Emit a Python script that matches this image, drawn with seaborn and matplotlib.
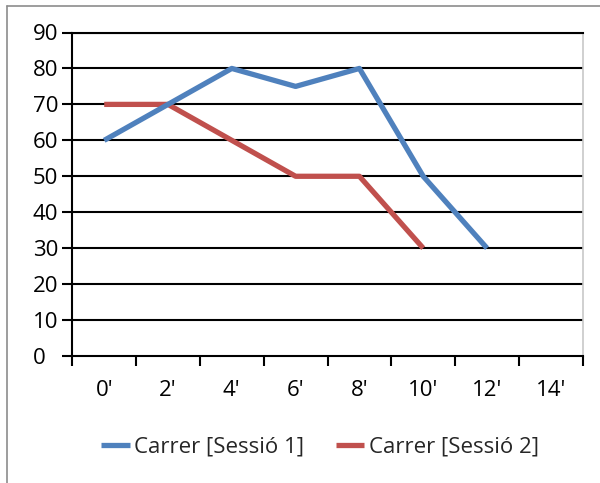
import numpy as np
import pandas as pd
import matplotlib
matplotlib.use("Agg")
import matplotlib.pyplot as plt
import seaborn as sns
from matplotlib.lines import Line2D

# Categories along the x axis (minutes)
minutes = ["0'", "2'", "4'", "6'", "8'", "10'", "12'", "14'"]

# Series values per category
sessio1 = [60, 70, 80, 75, 80, 50, 30]
sessio2 = [70, 70, 60, 50, 50, 30]

label1 = "Carrer [Sessió 1]"
label2 = "Carrer [Sessió 2]"

y_ticks = [0, 10, 20, 30, 40, 50, 60, 70, 80, 90]

blue = "#4F81BD"
red = "#C0504D"

sns.set_theme(style="white")
plt.rcParams["font.family"] = ["Open Sans", "DejaVu Sans"]

df1 = pd.DataFrame({"pos": np.arange(len(sessio1)) + 0.5, "value": sessio1})
df2 = pd.DataFrame({"pos": np.arange(len(sessio2)) + 0.5, "value": sessio2})

fig = plt.figure(figsize=(6.0, 4.83), dpi=100)
ax = fig.add_axes([72.3 / 600, 1 - 356 / 483, (582.7 - 72.3) / 600, (356 - 32.5) / 483])

# horizontal gridlines
for yv in y_ticks[1:]:
    ax.axhline(yv, color="black", lw=1.5, zorder=1)

sns.lineplot(data=df1, x="pos", y="value", color=blue, lw=3.8, ax=ax,
             sort=False, zorder=3, solid_capstyle="butt")
sns.lineplot(data=df2, x="pos", y="value", color=red, lw=3.8, ax=ax,
             sort=False, zorder=2, solid_capstyle="butt")

ax.set_xlim(0, len(minutes))
ax.set_ylim(0, 90)
ax.set_xlabel("")
ax.set_ylabel("")

# tick marks at category boundaries, labels at category centres
ax.set_xticks(np.arange(len(minutes) + 1))
ax.set_xticklabels([])
ax.set_xticks(np.arange(len(minutes)) + 0.5, minor=True)
ax.set_xticklabels(minutes, minor=True)
ax.tick_params(axis="x", which="major", direction="out", length=7.5, width=1.5,
               color="black", bottom=True)
ax.tick_params(axis="x", which="minor", length=0, pad=17, labelsize=16,
               labelcolor="black")

ax.set_yticks(y_ticks)
ax.set_yticklabels([str(v) for v in y_ticks])
ax.tick_params(axis="y", direction="out", length=7.5, width=1.5, color="black",
               left=True, labelsize=16, labelcolor="black", pad=20.8)
for lab in ax.get_yticklabels():
    lab.set_horizontalalignment("left")

for side in ["left", "bottom", "top"]:
    ax.spines[side].set_color("black")
    ax.spines[side].set_linewidth(1.5)
ax.spines["right"].set_color("#c8c8c8")
ax.spines["right"].set_linewidth(1.2)

handles = [Line2D([], [], color=blue, lw=3.8, solid_capstyle="butt"),
           Line2D([], [], color=red, lw=3.8, solid_capstyle="butt")]
fig.legend(handles, [label1, label2], loc="center", ncol=2, frameon=False,
           bbox_to_anchor=(320 / 600, 1 - 447 / 483), fontsize=16,
           handlelength=1.3, handletextpad=0.2, columnspacing=1.4)

# outer frame lines
fig.add_artist(Line2D([6.5 / 600, 6.5 / 600], [0, 1 - 6 / 483],
                      transform=fig.transFigure, color="#8c8c8c", lw=1.2))
fig.add_artist(Line2D([6.5 / 600, 1], [1 - 6 / 483, 1 - 6 / 483],
                      transform=fig.transFigure, color="#8c8c8c", lw=1.2))

fig.savefig("out.png", dpi=100)
